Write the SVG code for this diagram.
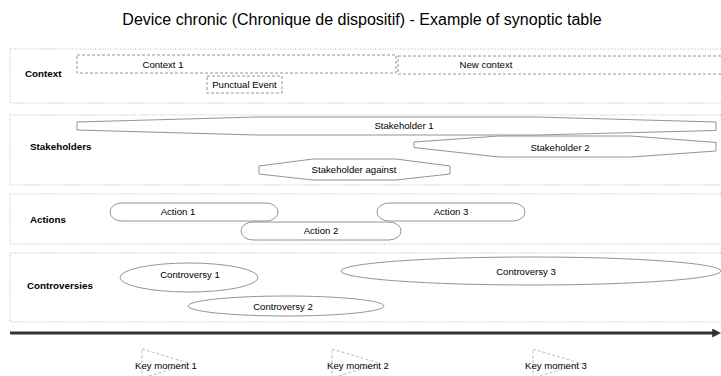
<svg xmlns="http://www.w3.org/2000/svg" width="721" height="376" viewBox="0 0 721 376">
<style>
text{font-family:"Liberation Sans",Arial,sans-serif;fill:#000}
.title{font-size:16px}
.lbl{font-size:9.8px;font-weight:bold}
.t{font-size:9.6px;text-anchor:middle}
.lane{fill:#fff;stroke:#aaa;stroke-width:0.8;stroke-dasharray:1 1.5}
.ctx{fill:#fff;stroke:#888;stroke-width:0.9;stroke-dasharray:3 2}
.sh{fill:#fff;stroke:#888;stroke-width:0.9}
.km{fill:none;stroke:#aaa;stroke-width:0.8;stroke-dasharray:3 2}
</style>
<defs>
<marker id="ah" viewBox="0 0 10 10" refX="2" refY="5" markerWidth="3" markerHeight="3" orient="auto" markerUnits="strokeWidth">
<path d="M0,0 L10,5 L0,10 z" fill="#333"/>
</marker>
</defs>
<rect width="721" height="376" fill="#fff"/>
<text class="title" x="362" y="25" text-anchor="middle">Device chronic (Chronique de dispositif) - Example of synoptic table</text>

<g id="lane-context"><rect class="lane" x="10" y="49" width="720" height="54"/><text class="lbl" x="25" y="77">Context</text></g>
<g id="lane-stakeholders"><rect class="lane" x="10" y="115" width="720" height="70"/><text class="lbl" x="30" y="150">Stakeholders</text></g>
<g id="lane-actions"><rect class="lane" x="10" y="194" width="720" height="50"/><text class="lbl" x="30" y="223">Actions</text></g>
<g id="lane-controversies"><rect class="lane" x="10" y="253" width="720" height="69"/><text class="lbl" x="27" y="289">Controversies</text></g>

<g id="context1"><rect class="ctx" x="77" y="55" width="319" height="18"/><text class="t" x="163" y="68">Context 1</text></g>
<g id="newcontext"><rect class="ctx" x="398" y="56" width="330" height="18"/><text class="t" x="486" y="68">New context</text></g>
<g id="punctual"><rect class="ctx" x="207" y="76" width="75" height="17"/><text class="t" x="244.5" y="88">Punctual Event</text></g>

<g id="stakeholder1"><polygon class="sh" points="77,122 257,117 536,117 716,122 716,130.5 536,135 257,135 77,130"/><text class="t" x="404" y="129">Stakeholder 1</text></g>
<g id="stakeholder2"><polygon class="sh" points="414,142 499,136 631,136 716,142.5 716,151 631,157 499,157 414,147.5"/><text class="t" x="560" y="151">Stakeholder 2</text></g>
<g id="stakeholder-against"><polygon class="sh" points="259,166 313,159 396,159 450,166 450,174 396,180 313,180 259,174"/><text class="t" x="354" y="173">Stakeholder against</text></g>

<g id="action1"><rect class="sh" x="110" y="203" width="168" height="18" rx="12" ry="9"/><text class="t" x="178" y="215">Action 1</text></g>
<g id="action2"><rect class="sh" x="241" y="222" width="160" height="18" rx="12" ry="9"/><text class="t" x="321" y="234">Action 2</text></g>
<g id="action3"><rect class="sh" x="377" y="203" width="148" height="18" rx="12" ry="9"/><text class="t" x="451" y="215">Action 3</text></g>

<g id="controversy1"><ellipse class="sh" cx="189" cy="277.5" rx="69" ry="14.5"/><text class="t" x="190" y="278">Controversy 1</text></g>
<g id="controversy2"><ellipse class="sh" cx="286" cy="306" rx="98" ry="10"/><text class="t" x="283" y="309.5">Controversy 2</text></g>
<g id="controversy3"><ellipse class="sh" cx="531" cy="271" rx="190" ry="14"/><text class="t" x="526" y="275">Controversy 3</text></g>

<g id="connectors"><line x1="10" y1="333" x2="714" y2="333" stroke="#333" stroke-width="3" marker-end="url(#ah)"/></g>

<g id="keymoment1"><polygon class="km" points="142,349 190,363.5 142,378"/><text class="t" x="166" y="369">Key moment 1</text></g>
<g id="keymoment2"><polygon class="km" points="332,349 380,363.5 332,378"/><text class="t" x="358" y="369">Key moment 2</text></g>
<g id="keymoment3"><polygon class="km" points="533,349 581,363.5 533,378"/><text class="t" x="556" y="369">Key moment 3</text></g>
</svg>
